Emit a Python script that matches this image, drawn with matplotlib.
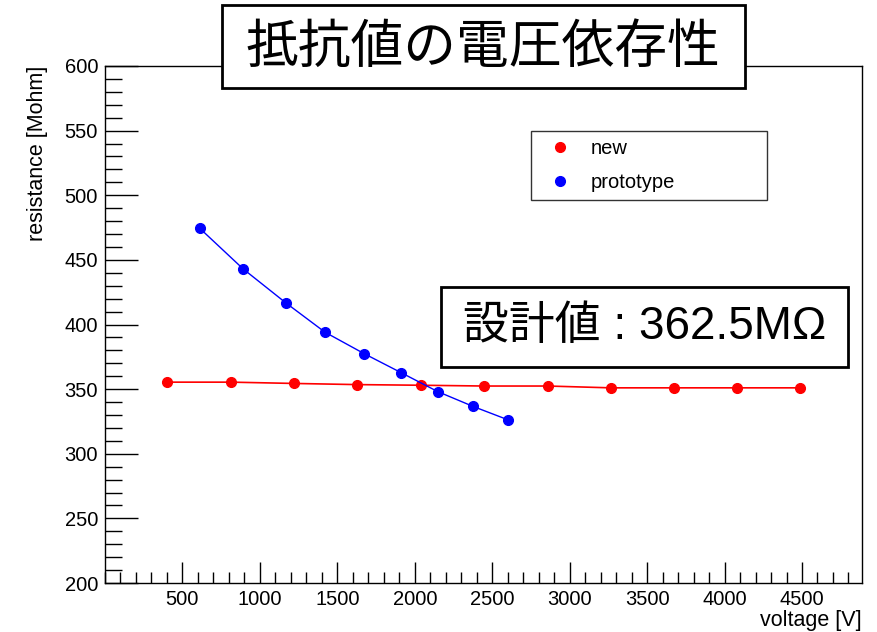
import matplotlib
matplotlib.use("Agg")
import matplotlib.pyplot as plt
from matplotlib.patches import Rectangle
from matplotlib.ticker import MultipleLocator

# data
new_v = [400, 815, 1220, 1630, 2040, 2450, 2860, 3265, 3675, 4080, 4490]
new_r = [355.4, 355.4, 354.4, 353.5, 353.0, 352.4, 352.4, 351.0, 351.0, 351.0, 351.0]

proto_v = [613, 892, 1167, 1421, 1674, 1911, 2148, 2377, 2601]
proto_r = [474.3, 443.0, 416.8, 394.0, 377.4, 362.8, 348.1, 336.6, 326.3]

title = "抵抗値の電圧依存性"
design_text = "設計値 : 362.5MΩ"

plt.rcParams['font.family'] = ['Liberation Sans', 'DejaVu Sans']

fig = plt.figure(figsize=(8.77, 6.32), dpi=100)
ax = fig.add_axes([0.1197, 0.0775, 0.8633, 0.8181])

ax.plot(new_v, new_r, color='red', lw=1.2, marker='o', ms=7, label='new')
ax.plot(proto_v, proto_r, color='blue', lw=1.0, marker='o', ms=7, label='prototype')

ax.set_xlim(0, 4888)
ax.set_ylim(200, 600)
ax.xaxis.set_major_locator(MultipleLocator(500))
ax.xaxis.set_minor_locator(MultipleLocator(100))
ax.yaxis.set_major_locator(MultipleLocator(50))
ax.yaxis.set_minor_locator(MultipleLocator(10))
ax.set_xticks([500, 1000, 1500, 2000, 2500, 3000, 3500, 4000, 4500])
ax.tick_params(which='both', direction='in', top=False, right=False, labelsize=14.5, width=1.0)
ax.tick_params(axis='y', which='major', length=24, pad=5)
ax.tick_params(axis='y', which='minor', length=12)
ax.tick_params(axis='x', which='major', length=15, pad=5)
ax.tick_params(axis='x', which='minor', length=8)
for s in ax.spines.values():
    s.set_linewidth(1.0)

ax.set_xlabel("voltage [V]", fontsize=15.5, loc='right', labelpad=1)
ax.set_ylabel("resistance [Mohm]", fontsize=15.5, loc='top', labelpad=12)

leg = ax.legend(loc='upper left', bbox_to_anchor=(0.563, 0.874, 0.3115, 0.0),
                mode='expand', fontsize=14.5, frameon=True, fancybox=False,
                handlelength=2.1, handletextpad=0.45, borderpad=0.4,
                labelspacing=0.75, borderaxespad=0)
leg.get_frame().set_edgecolor('black')
leg.get_frame().set_linewidth(1.0)
for h in leg.legend_handles:
    h.set_linestyle('none')

# boxed texts (title and design value)
fig.add_artist(Rectangle((0.2531, 0.8608), 0.5964, 0.1313, transform=fig.transFigure,
                         facecolor='white', edgecolor='black', linewidth=2, zorder=5))
fig.text(0.551, 0.9256, title, ha='center', va='center', fontsize=38,
         family=['Noto Sans CJK JP', 'DejaVu Sans'], zorder=6)

fig.add_artist(Rectangle((0.5029, 0.4193), 0.464, 0.1266, transform=fig.transFigure,
                         facecolor='white', edgecolor='black', linewidth=2, zorder=5))
fig.text(0.735, 0.4826, design_text, ha='center', va='center', fontsize=33,
         family=['Liberation Sans', 'Noto Sans CJK JP'], zorder=6)

fig.savefig("out.png", dpi=100)
